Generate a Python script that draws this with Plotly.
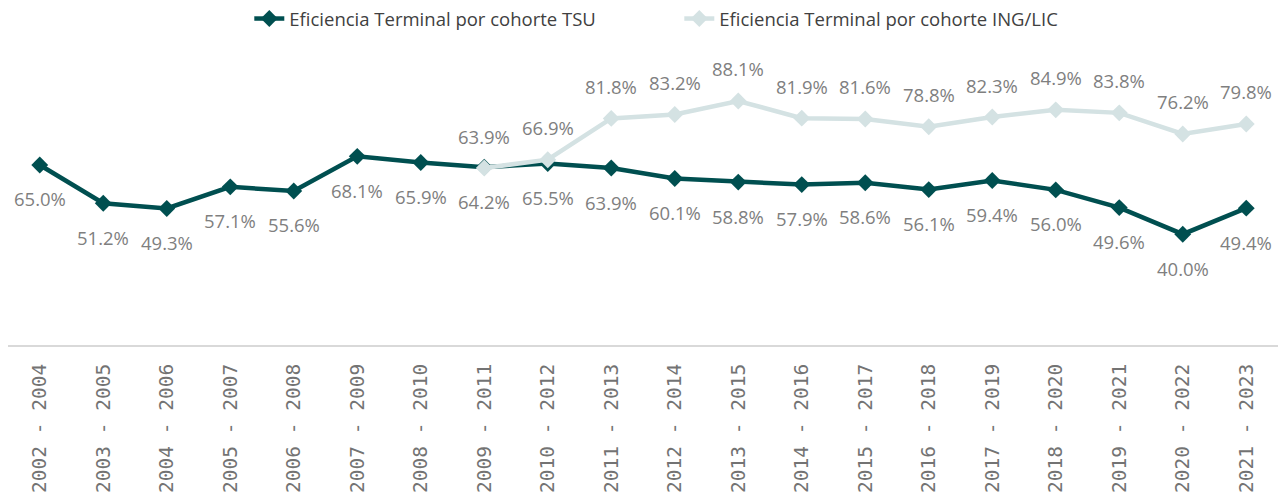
import plotly.graph_objects as go

periods = ["2002 - 2004", "2003 - 2005", "2004 - 2006", "2005 - 2007", "2006 - 2008",
           "2007 - 2009", "2008 - 2010", "2009 - 2011", "2010 - 2012", "2011 - 2013",
           "2012 - 2014", "2013 - 2015", "2014 - 2016", "2015 - 2017", "2016 - 2018",
           "2017 - 2019", "2018 - 2020", "2019 - 2021", "2020 - 2022", "2021 - 2023"]
tsu = [65.0, 51.2, 49.3, 57.1, 55.6, 68.1, 65.9, 64.2, 65.5, 63.9,
       60.1, 58.8, 57.9, 58.6, 56.1, 59.4, 56.0, 49.6, 40.0, 49.4]
ing_periods = periods[7:]
ing = [63.9, 66.9, 81.8, 83.2, 88.1, 81.9, 81.6, 78.8, 82.3, 84.9, 83.8, 76.2, 79.8]

TSU_COLOR = "#004F50"
ING_COLOR = "#D4E2E3"
LABEL_COLOR = "#7F7F7F"

fig = go.Figure()
fig.add_trace(go.Scatter(
    x=periods, y=tsu, mode="lines+markers", name="Eficiencia Terminal por cohorte TSU",
    line=dict(color=TSU_COLOR, width=4.5),
    marker=dict(symbol="diamond", size=13, color=TSU_COLOR),
    cliponaxis=False,
))
fig.add_trace(go.Scatter(
    x=ing_periods, y=ing, mode="lines+markers", name="Eficiencia Terminal por cohorte ING/LIC",
    line=dict(color=ING_COLOR, width=4.5),
    marker=dict(symbol="diamond", size=13, color=ING_COLOR),
    cliponaxis=False,
))

annotations = []
for p, v in zip(periods, tsu):
    annotations.append(dict(x=p, y=v, text=f"{v:.1f}%", showarrow=False, yshift=-34,
                            font=dict(family="Open Sans", size=18.5, color=LABEL_COLOR)))
for p, v in zip(ing_periods, ing):
    annotations.append(dict(x=p, y=v, text=f"{v:.1f}%", showarrow=False, yshift=32,
                            font=dict(family="Open Sans", size=18.5, color=LABEL_COLOR)))

fig.update_layout(
    width=1283, height=501,
    margin=dict(l=8, r=5, t=68, b=156),
    paper_bgcolor="white", plot_bgcolor="white",
    showlegend=True,
    legend=dict(orientation="h", x=0.19, xanchor="left", y=1, yanchor="top",
                yref="container", entrywidth=385,
                font=dict(family="Open Sans", size=18.5, color="#404040")),
    annotations=annotations,
    xaxis=dict(type="category", range=[-0.5, 19.5], showline=True, linecolor="#D9D9D9",
               linewidth=2, showgrid=False, zeroline=False, tickangle=-90,
               ticklabelstandoff=9, automargin=False,
               tickfont=dict(family="DejaVu Sans Mono", size=19.5, color="#737373")),
    yaxis=dict(range=[0, 100], showgrid=False, zeroline=False, showticklabels=False,
               showline=False, automargin=False),
)
fig.write_html("out.html", config={"displayModeBar": False},
               post_script="document.body.style.margin='0';")
